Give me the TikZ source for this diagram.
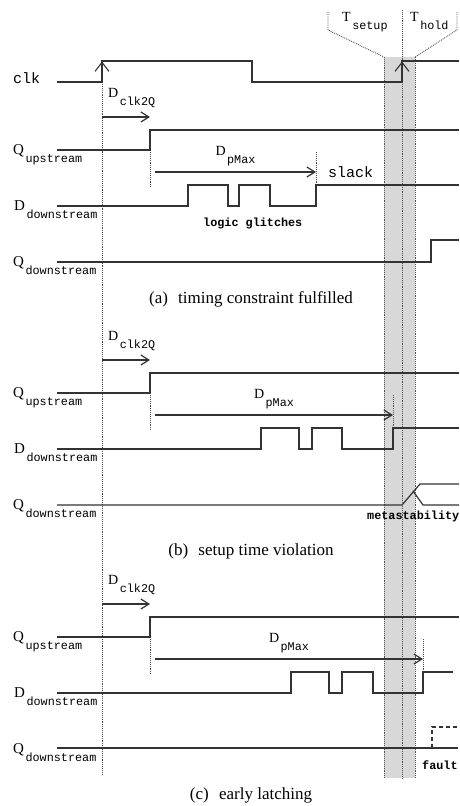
\documentclass[tikz,border=0pt]{standalone}
\usepackage{fontspec}
\setmainfont{Liberation Serif}
\setmonofont{Liberation Mono}
\usepackage{tikz}
\usetikzlibrary{arrows.meta}
\definecolor{cWire}{HTML}{333333}
\definecolor{cBand}{HTML}{D8D8D8}
\definecolor{cDots}{HTML}{505050}
\newcommand{\signame}[2]{#1\hspace{1.5pt}\raisebox{-8pt}{\fontsize{11.8}{12}\selectfont\ttfamily #2}}

\begin{document}
\begin{tikzpicture}[x=1pt, y=-1pt,
    wire/.style={cWire, line width=1.2pt},
    guide/.style={cDots, line width=0.9pt, densely dotted},
    dly/.style={cWire, line width=1.2pt, -{Straight Barb[length=8pt,width=10pt]}},
    clkedge/.style={cWire, line width=1.1pt, -{Straight Barb[length=9pt,width=14pt]}},
    sig/.style={anchor=base west, inner sep=0pt, font=\fontsize{15}{15}\selectfont},
    tag/.style={anchor=base west, inner sep=0pt, font=\fontsize{14}{14}\selectfont},
    note/.style={anchor=base west, inner sep=0pt, font=\fontsize{11.8}{12}\selectfont\ttfamily\bfseries},
    subcap/.style={anchor=base, inner sep=0pt, font=\fontsize{17}{17}\selectfont}]
    \useasboundingbox (0,0) rectangle (459,806);

    % --- setup / hold window ------------------------------------------
    \fill[cBand] (384,57) rectangle (415,778);
    \draw[guide] (384,57) -- (384,778);
    \draw[guide] (415,57) -- (415,778);
    \draw[guide] (402,10) -- (402,778);
    \draw[guide] (328,12) -- (328,30) -- (384,57);
    \draw[guide] (457,12) -- (457,30) -- (415,57);
    \node[tag] (tsetup) at (342,21) {\signame{T}{setup}};
    \node[tag] (thold) at (410,21) {\signame{T}{hold}};

    % --- clock ----------------------------------------------------------
    \draw[guide] (102,84) -- (102,774);
    \node[sig, font=\fontsize{15}{15}\selectfont\ttfamily] (clk) at (13,83) {clk};
    \draw[wire] (57,82) -- (102,82) -- (102,61) -- (252,61) -- (252,82)
      -- (402,82) -- (402,61) -- (459,61);
    \draw[clkedge] (102,80) -- (102,61.5);
    \draw[clkedge] (402,80) -- (402,61.5);

    % --- parts common to the three cases ---------------------------------
    \foreach \dy/\tp/\p in {0/316/a, 243/393/b, 487/423/c}{
      \node[tag] (dclk-\p) at (108,97+\dy) {\signame{D}{clk2Q}};
      \draw[dly] (102,117+\dy) -- (150,117+\dy);
      \node[sig] (qup-\p) at (13,154+\dy) {\signame{Q}{upstream}};
      \draw[wire] (57,150+\dy) -- (150,150+\dy) -- (150,130+\dy) -- (459,130+\dy);
      \draw[guide] (150,152+\dy) -- (150,188+\dy);
      \node[tag, anchor=base] (dmax-\p) at ({(155+\tp)/2},155+\dy) {\signame{D}{pMax}};
      \draw[dly] (155,172+\dy) -- (\tp,172+\dy);
      \draw[guide] (\tp,152+\dy) -- (\tp,186+\dy);
      \node[sig] (ddn-\p) at (14,210+\dy) {\signame{D}{downstream}};
      \node[sig] (qdn-\p) at (13,266+\dy) {\signame{Q}{downstream}};
    }

    % --- (a) timing constraint fulfilled ----------------------------------
    \draw[wire] (57,206) -- (188,206) -- (188,185) -- (228,185) -- (228,206)
      -- (239,206) -- (239,185) -- (270,185) -- (270,206) -- (316,206)
      -- (316,185) -- (459,185);
    \node[note] (glitch) at (203,226) {logic glitches};
    \node[sig, font=\fontsize{15}{15}\selectfont\ttfamily] (slack) at (328,177) {slack};
    \draw[wire] (57,262) -- (431,262) -- (431,240) -- (459,240);
    \node[subcap] (cap-a) at (251,303) {(a)\hspace{0.6em}timing constraint fulfilled};

    % --- (b) setup time violation ----------------------------------------
    \draw[wire] (57,449) -- (261,449) -- (261,428) -- (299,428) -- (299,449)
      -- (312,449) -- (312,428) -- (342,428) -- (342,449) -- (393,449)
      -- (393,428) -- (459,428);
    \draw[wire] (57,505) -- (402,505) -- (420,484) -- (459,484);
    \draw[wire] (413,491) -- (423,505) -- (459,505);
    \node[note] (meta) at (367,519) {metastability};
    \node[subcap] (cap-b) at (251,555) {(b)\hspace{0.6em}setup time violation};

    % --- (c) early latching ----------------------------------------------
    \draw[wire] (57,748) -- (458,748);
    \draw[wire] (57,693) -- (291,693) -- (291,672) -- (329,672) -- (329,693)
      -- (342,693) -- (342,672) -- (373,672) -- (373,693) -- (423,693)
      -- (423,672) -- (453,672);
    \draw[wire, dash pattern=on 4pt off 3pt] (432,748) -- (432,727) -- (459,727);
    \node[note] (fault) at (422,769) {fault};
    \node[subcap] (cap-c) at (251,799) {(c)\hspace{0.6em}early latching};
\end{tikzpicture}
\end{document}
